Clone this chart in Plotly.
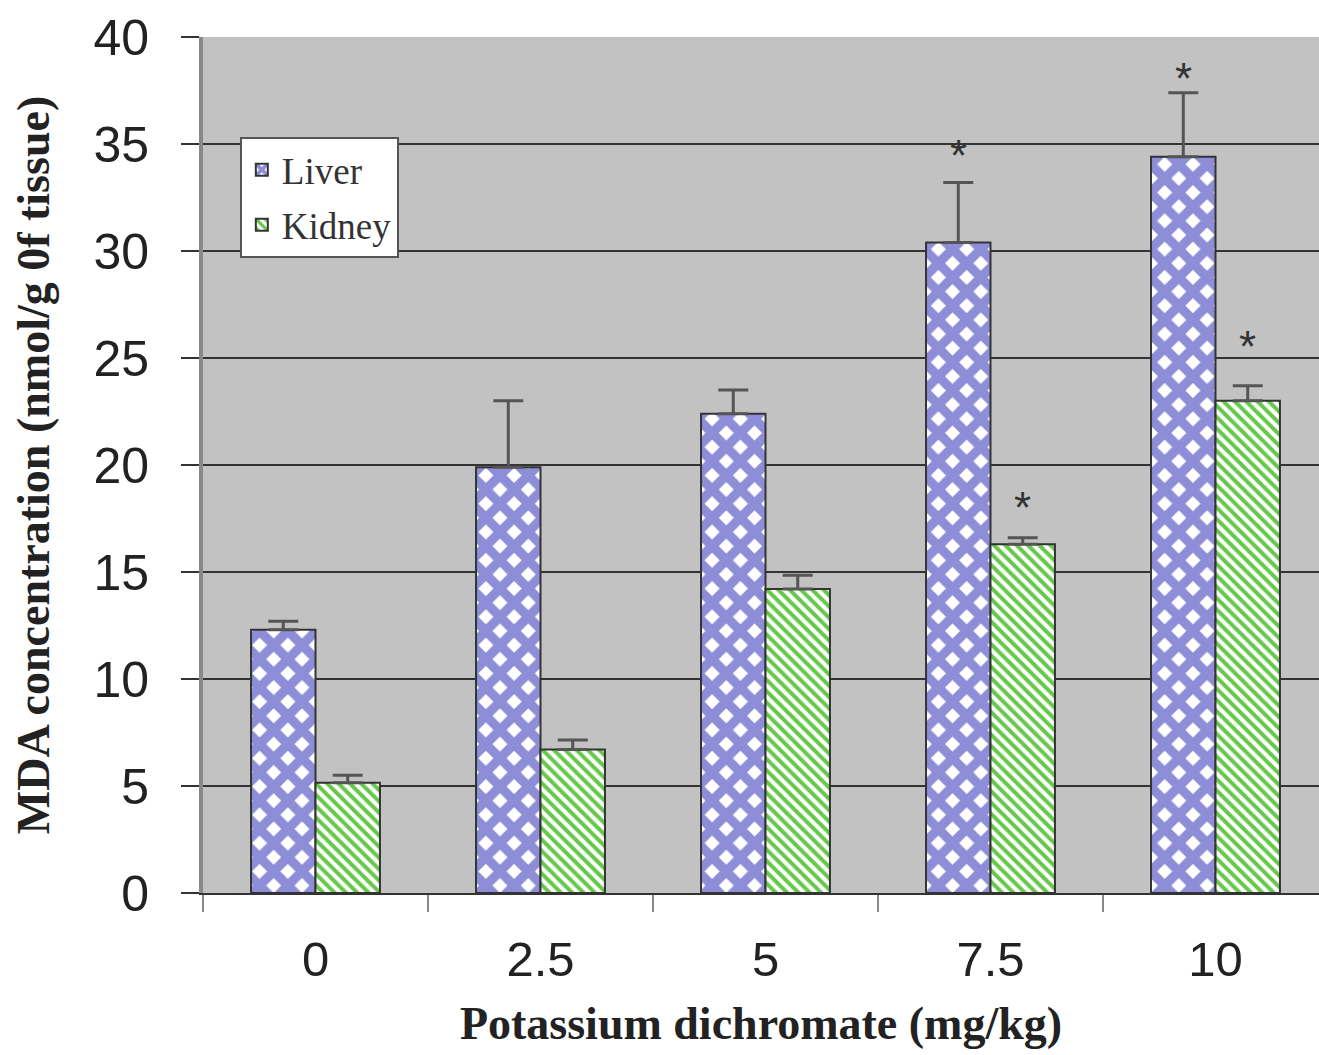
import plotly.graph_objects as go

categories = ["0", "2.5", "5", "7.5", "10"]
liver = [12.3, 19.9, 22.4, 30.4, 34.4]
liver_err = [0.4, 3.1, 1.1, 2.8, 3.0]
kidney = [5.15, 6.7, 14.2, 16.3, 23.0]
kidney_err = [0.35, 0.45, 0.65, 0.3, 0.7]
# asterisk (significance) marker heights; None = no marker
liver_star = [None, None, None, 34.95, 38.55]
kidney_star = [None, None, None, 18.5, 26.0]

LAV = "#8e8ed8"
GRN = "#66c84a"

fig = go.Figure()
fig.add_trace(go.Bar(
    name="Liver", x=categories, y=liver, legendgroup="liver",
    marker=dict(color=LAV, line=dict(color="#333333", width=2),
                pattern=dict(shape="x", bgcolor="white", fgcolor=LAV,
                             size=20, solidity=0.72, fillmode="replace")),
    error_y=dict(type="data", array=liver_err, symmetric=False,
                 arrayminus=[0]*5, color="#555555", thickness=3, width=15),
))
fig.add_trace(go.Bar(
    name="Kidney", x=categories, y=kidney, legendgroup="kidney",
    marker=dict(color=GRN, line=dict(color="#333333", width=2),
                pattern=dict(shape="\\", bgcolor="white", fgcolor=GRN,
                             size=8, solidity=0.5, fillmode="replace")),
    error_y=dict(type="data", array=kidney_err, symmetric=False,
                 arrayminus=[0]*5, color="#555555", thickness=3, width=15),
))

for i in range(len(categories)):
    if liver_star[i] is not None:
        fig.add_annotation(x=i, y=liver_star[i], xref="x", yref="y",
                           text="*", showarrow=False, xshift=-32, yshift=-10,
                           yanchor="middle",
                           font=dict(size=44, color="#333333", family="Liberation Sans"))
    if kidney_star[i] is not None:
        fig.add_annotation(x=i, y=kidney_star[i], xref="x", yref="y",
                           text="*", showarrow=False, xshift=32, yshift=-10,
                           yanchor="middle",
                           font=dict(size=44, color="#333333", family="Liberation Sans"))

fig.update_layout(
    width=1319, height=1055,
    margin=dict(l=203, r=0, t=37, b=162),
    paper_bgcolor="white", plot_bgcolor="#c2c2c2",
    barmode="group", bargap=0.427, bargroupgap=0,
    showlegend=True,
    legend=dict(x=0.033, y=0.883, xanchor="left", yanchor="top",
                bgcolor="white", bordercolor="#555555", borderwidth=2,
                font=dict(family="Liberation Serif", size=37, color="#333333"),
                tracegroupgap=4, itemwidth=30),
    font=dict(family="Liberation Sans", color="#222222"),
)
fig.update_xaxes(
    type="category", range=[-0.5, 4.46], tickson="boundaries",
    ticks="outside", ticklen=17, tickwidth=2, tickcolor="#888888",
    ticklabelstandoff=22,
    showline=True, linecolor="#333333", linewidth=2,
    tickfont=dict(size=49, family="Liberation Sans", color="#222222"),
    title=dict(text="<b>Potassium dichromate (mg/kg)</b>", standoff=22,
               font=dict(family="Liberation Serif", size=46, color="#222222")),
    showgrid=False,
)
fig.update_yaxes(
    range=[0, 40], dtick=5, ticks="outside", ticklen=18, tickwidth=2,
    tickcolor="#333333", showline=True, linecolor="#888888", linewidth=4,
    ticklabelstandoff=22,
    gridcolor="#333333", gridwidth=2, zeroline=False,
    tickfont=dict(size=50, family="Liberation Sans", color="#222222"),
    title=dict(text="<b>MDA concentration (nmol/g 0f tissue)</b>", standoff=30,
               font=dict(family="Liberation Serif", size=46, color="#222222")),
)

fig.write_html("out.html")
